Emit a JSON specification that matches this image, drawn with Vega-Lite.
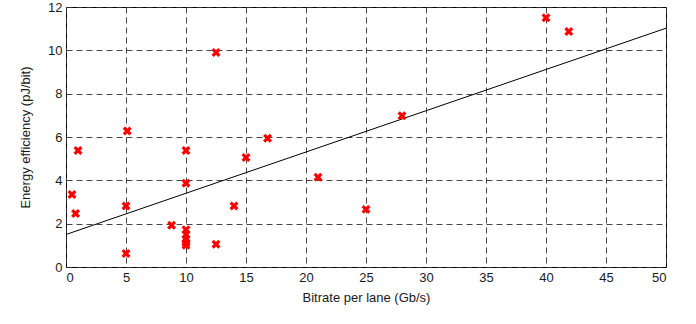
{
  "$schema": "https://vega.github.io/schema/vega-lite/v6.json",
  "width": 600,
  "height": 260,
  "autosize": {"type": "none"},
  "padding": {"left": 66, "top": 7, "right": 30, "bottom": 57},
  "background": "white",
  "config": {
    "view": {"stroke": "black", "strokeWidth": 1},
    "font": "Liberation Sans",
    "axis": {
      "labelFont": "Liberation Sans",
      "titleFont": "Liberation Sans",
      "labelFontSize": 13,
      "titleFontSize": 13,
      "titleFontWeight": "normal",
      "labelColor": "#1a1a1a",
      "titleColor": "#1a1a1a",
      "domain": false,
      "ticks": false,
      "grid": true,
      "gridColor": "#333",
      "gridDash": [6, 4],
      "gridWidth": 1,
      "gridOpacity": 0.9
    }
  },
  "datasets": {
    "pts": [
      {"bitrate": 0.5, "eff": 3.35},
      {"bitrate": 0.8, "eff": 2.47},
      {"bitrate": 1.0, "eff": 5.38},
      {"bitrate": 5.1, "eff": 6.28},
      {"bitrate": 5.0, "eff": 2.82},
      {"bitrate": 5.0, "eff": 0.62},
      {"bitrate": 8.8, "eff": 1.93},
      {"bitrate": 10.0, "eff": 5.38},
      {"bitrate": 10.0, "eff": 3.87},
      {"bitrate": 10.0, "eff": 1.72},
      {"bitrate": 10.0, "eff": 1.5},
      {"bitrate": 10.0, "eff": 1.28},
      {"bitrate": 10.0, "eff": 1.12},
      {"bitrate": 10.0, "eff": 1.0},
      {"bitrate": 12.5, "eff": 9.9},
      {"bitrate": 12.5, "eff": 1.05},
      {"bitrate": 14.0, "eff": 2.82},
      {"bitrate": 15.0, "eff": 5.05},
      {"bitrate": 16.8, "eff": 5.94},
      {"bitrate": 21.0, "eff": 4.14},
      {"bitrate": 25.0, "eff": 2.66},
      {"bitrate": 28.0, "eff": 6.98},
      {"bitrate": 40.0, "eff": 11.5},
      {"bitrate": 41.9, "eff": 10.87}
    ],
    "fit": [
      {"bitrate": 0, "eff": 1.5},
      {"bitrate": 50, "eff": 11.02}
    ]
  },
  "layer": [
    {
      "data": {"name": "fit"},
      "mark": {"type": "line", "color": "black", "strokeWidth": 1},
      "encoding": {
        "x": {"field": "bitrate", "type": "quantitative", "scale": {"domain": [0, 50], "nice": false}, "axis": {"values": [0,5,10,15,20,25,30,35,40,45,50], "title": "Bitrate per lane (Gb/s)", "labelPadding": 4, "titlePadding": 7}},
        "y": {"field": "eff", "type": "quantitative", "scale": {"domain": [0, 12], "nice": false}, "axis": {"values": [0,2,4,6,8,10,12], "title": "Energy efficiency (pJ/bit)", "labelPadding": 4, "titlePadding": 15}}
      }
    },
    {
      "data": {"name": "pts"},
      "mark": {"type": "point", "shape": "M-1,-1L1,1M1,-1L-1,1", "stroke": "red", "strokeWidth": 3.2, "size": 45, "opacity": 1, "filled": false},
      "encoding": {
        "x": {"field": "bitrate", "type": "quantitative"},
        "y": {"field": "eff", "type": "quantitative"}
      }
    }
  ]
}
